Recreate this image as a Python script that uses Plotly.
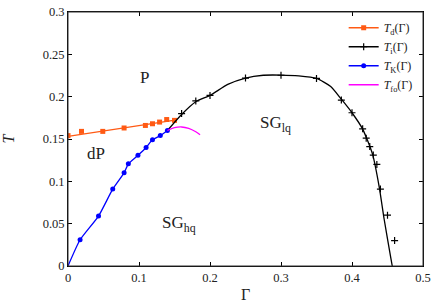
import plotly.graph_objects as go

# ---- data ----
gamma_d = [0.0, 0.019, 0.049, 0.079, 0.109, 0.119, 0.129, 0.139, 0.150]
T_d = [0.154, 0.159, 0.159, 0.163, 0.166, 0.168, 0.170, 0.173, 0.172]
gamma_d_fit = [0.0, 0.153]
T_d_fit = [0.153, 0.1725]

gamma_i = [0.16, 0.18, 0.20, 0.25, 0.30, 0.35, 0.385, 0.40, 0.415, 0.42, 0.425, 0.43, 0.435, 0.44, 0.45, 0.46]
T_i = [0.180, 0.195, 0.2015, 0.222, 0.2253, 0.2215, 0.196, 0.181, 0.162, 0.151, 0.141, 0.131, 0.120, 0.0908, 0.060, 0.030]
gamma_i_curve = [0.14, 0.16, 0.18, 0.20, 0.225, 0.25, 0.275, 0.30, 0.325, 0.35, 0.37, 0.385, 0.40,
                 0.415, 0.429, 0.4383, 0.4453, 0.4547, 0.4567]
T_i_curve = [0.160, 0.179, 0.194, 0.2015, 0.2145, 0.222, 0.2253, 0.2255, 0.2245, 0.2215, 0.212, 0.197, 0.181,
             0.1617, 0.1318, 0.0935, 0.0552, 0.0092, 0.0]

gamma_K = [0.017, 0.043, 0.063, 0.079, 0.085, 0.0985, 0.110, 0.119, 0.130, 0.140]
T_K = [0.031, 0.059, 0.0908, 0.110, 0.1207, 0.1307, 0.140, 0.149, 0.154, 0.160]
gamma_K_line = [0.0] + gamma_K
T_K_line = [0.0] + T_K

gamma_fo = [0.14, 0.15, 0.16, 0.17, 0.18, 0.186]
T_fo = [0.160, 0.1633, 0.1642, 0.1625, 0.1585, 0.155]

x_ticks = [0, 0.1, 0.2, 0.3, 0.4, 0.5]
x_ticklabels = ["0", "0.1", "0.2", "0.3", "0.4", "0.5"]
y_ticks = [0, 0.05, 0.1, 0.15, 0.2, 0.25, 0.3]
y_ticklabels = ["0", "0.05", "0.1", "0.15", "0.2", "0.25", "0.3"]

ORANGE = "#ff5a14"
BLUE = "#0000ff"
BLACK = "#000000"
MAGENTA = "#ff00ff"
FONT = "Liberation Serif"
TXT = "#222222"

fig = go.Figure()

# data traces (no legend)
fig.add_trace(go.Scatter(x=gamma_d_fit, y=T_d_fit, mode="lines", line=dict(color=ORANGE, width=1.3),
                         showlegend=False, hoverinfo="skip"))
fig.add_trace(go.Scatter(x=gamma_d, y=T_d, mode="markers",
                         marker=dict(color=ORANGE, symbol="square", size=5), showlegend=False))
fig.add_trace(go.Scatter(x=gamma_i_curve, y=T_i_curve, mode="lines",
                         line=dict(color=BLACK, width=1.3, shape="spline", smoothing=0.6),
                         showlegend=False, hoverinfo="skip"))
fig.add_trace(go.Scatter(x=gamma_i, y=T_i, mode="markers",
                         marker=dict(color=BLACK, symbol="cross-thin", size=5,
                                     line=dict(color=BLACK, width=1.2)), showlegend=False))
fig.add_trace(go.Scatter(x=gamma_K_line, y=T_K_line, mode="lines",
                         line=dict(color=BLUE, width=1.3, shape="spline", smoothing=0.5),
                         showlegend=False, hoverinfo="skip"))
fig.add_trace(go.Scatter(x=gamma_K, y=T_K, mode="markers",
                         marker=dict(color=BLUE, symbol="circle", size=5), showlegend=False))
fig.add_trace(go.Scatter(x=gamma_fo, y=T_fo, mode="lines",
                         line=dict(color=MAGENTA, width=1.3, shape="spline"), showlegend=False))

# legend-only entries
fig.add_trace(go.Scatter(x=[None], y=[None], mode="lines+markers", name="<i>T</i><sub>d</sub>(Γ)",
                         line=dict(color=ORANGE, width=1.3), marker=dict(color=ORANGE, symbol="square", size=5)))
fig.add_trace(go.Scatter(x=[None], y=[None], mode="lines+markers", name="<i>T</i><sub>i</sub>(Γ)",
                         line=dict(color=BLACK, width=1.3),
                         marker=dict(color=BLACK, symbol="cross-thin", size=5, line=dict(color=BLACK, width=1.2))))
fig.add_trace(go.Scatter(x=[None], y=[None], mode="lines+markers", name="<i>T</i><sub>K</sub>(Γ)",
                         line=dict(color=BLUE, width=1.3), marker=dict(color=BLUE, symbol="circle", size=5)))
fig.add_trace(go.Scatter(x=[None], y=[None], mode="lines", name="<i>T</i><sub>fo</sub>(Γ)",
                         line=dict(color=MAGENTA, width=1.3)))

labels = [
    (0.108, 0.223, "P"),
    (0.040, 0.133, "dP"),
    (0.292, 0.168, "SG<sub>lq</sub>"),
    (0.156, 0.050, "SG<sub>hq</sub>"),
]
for lx, ly, txt in labels:
    fig.add_annotation(x=lx, y=ly, xref="x", yref="y", text=txt, showarrow=False,
                       font=dict(family=FONT, size=17, color=TXT))

# plot frame
fig.add_shape(type="rect", xref="x domain", yref="y domain", x0=0, x1=1, y0=0, y1=1,
              line=dict(color="#333333", width=1), layer="above")

axis_common = dict(showline=True, linecolor=BLACK, linewidth=1, mirror="ticks", ticks="inside",
                   ticklen=4, tickcolor=BLACK, showgrid=False, zeroline=False,
                   ticklabeloverflow="allow",
                   tickfont=dict(family=FONT, size=12.5, color=TXT))

fig.update_layout(
    width=436, height=305,
    margin=dict(l=67, r=12, t=5, b=37),
    paper_bgcolor="white", plot_bgcolor="white",
    xaxis=dict(range=[0, 0.5], tickvals=x_ticks, ticktext=x_ticklabels,
               title=dict(text="Γ", font=dict(family=FONT, size=16, color=TXT), standoff=4),
               **axis_common),
    yaxis=dict(range=[0, 0.3], tickvals=y_ticks, ticktext=y_ticklabels,
               title=dict(text="<i>T</i>", font=dict(family=FONT, size=16, color=TXT), standoff=26),
               **axis_common),
    legend=dict(x=0.985, y=0.995, xanchor="right", yanchor="top", bgcolor="rgba(0,0,0,0)",
                font=dict(family=FONT, size=12, color=TXT), tracegroupgap=0,
                itemwidth=30),
    showlegend=True,
)

fig.write_html("out.html", config={"displayModeBar": False},
               post_script="document.body.style.margin='0';document.body.style.overflow='hidden';")
